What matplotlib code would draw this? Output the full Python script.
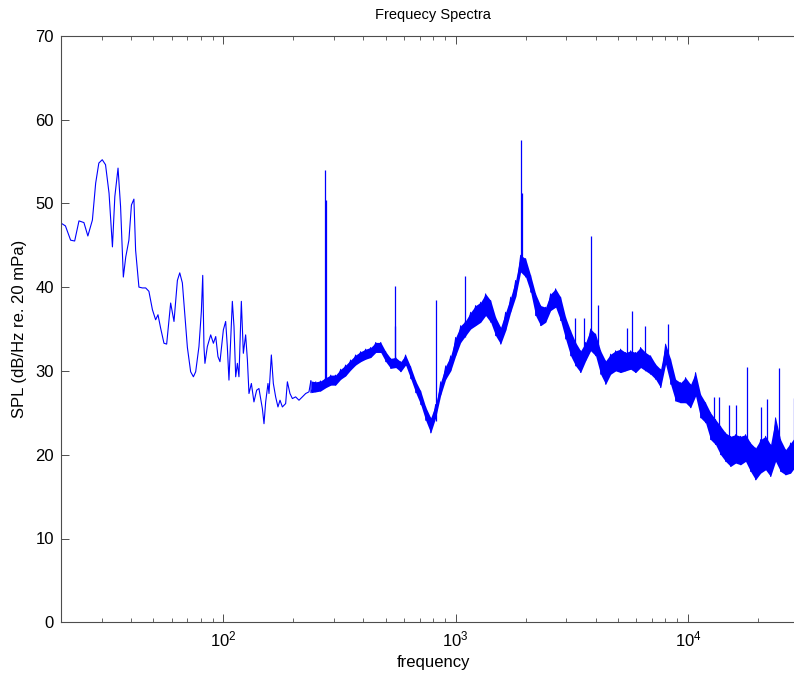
import numpy as np
import matplotlib.pyplot as plt

plt.rcParams['font.family'] = ['Liberation Sans', 'DejaVu Sans']
plt.rcParams['font.size'] = 12

# low-frequency part of the spectrum (Hz, dB) - smooth trace
f_low = [20.1, 20.9, 22.0, 22.9, 23.9, 25.1, 26.1, 27.3, 28.2, 29.1, 30.1, 31.1,
         32.2, 33.3, 34.1, 35.2, 36.1, 37.1, 38.0, 39.2, 40.2, 41.2, 41.9, 43.3,
         44.8, 46.3, 47.8, 49.5, 51.1, 52.3, 53.7, 55.5, 57.0, 59.3, 61.3, 63.4,
         64.9, 66.6, 70.0, 72.3, 74.3, 76.0, 78.5, 80.4, 81.5, 82.5, 83.3, 85.3,
         88.2, 90.6, 92.7, 94.8, 96.7, 100.0, 102.3, 104.0, 105.7, 109.3, 111.1,
         113.0, 114.9, 116.7, 119.5, 121.9, 124.7, 126.9, 128.9, 132.0, 135.4,
         139.1, 142.3, 144.7, 147.2, 149.6, 152.1, 155.6, 157.2, 160.9, 164.1,
         167.9, 171.8, 175.3, 179.5, 185.4, 188.6, 193.5, 198.2, 204.7, 211.6,
         218.8, 226.1, 233.6]
spl_low = [47.6, 47.3, 45.6, 45.5, 47.9, 47.7, 46.1, 48.0, 52.4, 54.8, 55.2, 54.6,
           51.2, 44.8, 50.8, 54.2, 49.6, 41.2, 43.6, 45.6, 49.8, 50.5, 44.4, 40.0,
           39.9, 39.9, 39.5, 37.3, 36.1, 36.7, 35.1, 33.3, 33.2, 38.1, 35.9, 40.8,
           41.7, 40.5, 32.8, 29.9, 29.3, 29.9, 32.9, 37.1, 41.4, 32.9, 30.9, 32.9,
           34.3, 33.3, 34.1, 31.7, 31.1, 34.9, 35.9, 32.9, 28.9, 38.3, 35.3,
           29.3, 30.9, 29.3, 38.3, 32.1, 34.3, 31.3, 27.3, 28.5, 26.3,
           27.7, 27.9, 26.7, 25.5, 23.7, 26.3, 28.5, 27.3, 31.9, 28.5,
           26.9, 25.7, 26.5, 25.7, 26.1, 28.7, 27.3, 26.7, 26.9, 26.5,
           26.9, 27.3, 27.5]

# noisy part: upper and lower edge of the trace
f_band = [238, 250, 262, 276, 290, 304, 320, 336, 353, 371, 390, 410, 431, 453,
          476, 500, 525, 552, 580, 609, 640, 673, 707, 743, 781, 820, 862, 906,
          952, 1000, 1051, 1104, 1160, 1219, 1281, 1346, 1415, 1486, 1562, 1641,
          1725, 1812, 1904, 2001, 2103, 2209, 2322, 2440, 2563, 2694, 2831, 2974,
          3126, 3284, 3451, 3627, 3811, 4004, 4208, 4422, 4646, 4882, 5130, 5391,
          5665, 5952, 6255, 6572, 6906, 7257, 7626, 8013, 8420, 8848, 9297, 9770,
          10266, 10787, 11335, 11911, 12516, 13152, 13820, 14522, 15260, 16035,
          16849, 17705, 18605, 19550, 20542, 21586, 22682, 23834, 25045, 26317,
          27654, 29058]
band_hi = [28.8, 28.7, 28.8, 29.2, 29.5, 29.5, 30.2, 30.7, 31.3, 31.9, 32.3, 32.6,
           32.8, 33.4, 33.4, 32.3, 31.5, 31.6, 31.1, 31.9, 30.5, 28.8, 27.6, 25.7,
           24.4, 26.0, 28.7, 30.6, 31.8, 34.0, 35.4, 36.0, 37.0, 37.8, 38.2, 39.2,
           38.4, 36.4, 35.2, 37.0, 38.8, 40.8, 43.8, 43.4, 41.4, 39.2, 37.8, 37.6,
           39.2, 39.8, 38.8, 36.4, 34.8, 33.4, 32.4, 33.4, 35.0, 34.4, 32.4, 31.2,
           32.0, 32.4, 32.6, 32.2, 32.4, 32.2, 32.8, 32.2, 31.8, 30.8, 30.2, 33.2,
           31.4, 29.0, 28.6, 29.2, 28.4, 29.8, 27.2, 26.2, 25.0, 24.2, 23.4, 22.6,
           22.2, 22.4, 22.2, 22.4, 21.4, 20.8, 21.8, 22.2, 21.2, 24.4, 21.8, 20.6,
           21.4, 22.2]
band_lo = [27.4, 27.5, 27.6, 28.0, 28.3, 28.3, 29.0, 29.4, 30.1, 30.7, 31.1, 31.4,
           31.6, 32.2, 32.2, 31.1, 30.3, 30.4, 29.9, 30.7, 29.1, 27.4, 26.0, 24.1,
           22.6, 24.4, 27.1, 29.0, 30.0, 31.8, 33.4, 34.2, 35.0, 35.4, 35.8, 36.6,
           35.8, 34.2, 33.2, 34.8, 37.0, 38.8, 41.8, 41.2, 39.4, 36.6, 35.4, 35.8,
           37.2, 37.6, 36.0, 33.8, 31.8, 30.6, 29.8, 31.2, 32.4, 31.8, 29.6, 28.4,
           29.6, 30.0, 29.8, 30.0, 30.2, 29.8, 30.4, 30.0, 29.6, 29.0, 28.0, 30.8,
           28.4, 26.4, 26.2, 26.2, 25.6, 27.0, 24.4, 23.8, 21.8, 21.2, 20.0, 19.2,
           18.6, 19.0, 18.8, 19.2, 18.0, 17.0, 17.8, 18.2, 17.4, 19.2, 18.0, 17.6,
           17.8, 18.6]

# tonal peaks: frequency, level at the foot, level at the top
f_tone = [274, 276, 548, 550, 822, 1097, 1919, 1923, 3260, 3567, 3837, 4111,
          5485, 5768, 6516, 8206, 12950, 13590, 14990, 16030, 18030, 20570,
          21820, 24660, 28590]
tone_base = [29.0, 29.0, 31.0, 31.0, 24.0, 34.0, 43.0, 43.0, 33.0, 32.0, 34.0, 33.0,
             31.0, 31.0, 31.0, 32.0, 23.0, 22.0, 21.0, 21.0, 21.0, 21.0,
             21.0, 22.0, 21.0]
tone_peak = [54.0, 50.4, 40.1, 35.3, 38.5, 41.3, 57.6, 51.2, 36.3, 36.3, 46.1, 37.9,
             35.1, 37.2, 35.3, 35.6, 26.9, 26.9, 25.9, 25.9, 30.5, 25.7,
             26.6, 30.3, 26.8]

fig = plt.figure(figsize=(7.94, 6.74), dpi=100)
ax = fig.add_axes([61 / 794, 51.7 / 674, 744.3 / 794, 586.6 / 674])

ax.plot(f_low + [f_band[0]], spl_low + [band_hi[0]], color='b', lw=0.8)
ax.fill_between(f_band, band_lo, band_hi, color='b', lw=0)
zig_x = np.repeat(f_band, 2)
zig_y = np.column_stack([band_hi, band_lo]).ravel()
ax.plot(zig_x, zig_y, color='b', lw=0.7)
ax.vlines(f_tone, tone_base, tone_peak, color='b', lw=0.9)

ax.set_xscale('log')
ax.set_xlim(20, 32000)
ax.set_ylim(0, 70)
ax.set_yticks(range(0, 71, 10))

for s in ax.spines.values():
    s.set_color('0.3')
    s.set_linewidth(0.8)
ax.tick_params(which='both', direction='in', top=True, right=True, color='0.3')
ax.tick_params(which='major', length=6, width=0.7, pad=5)
ax.tick_params(which='minor', length=3, width=0.6)

ax.set_title('Frequecy Spectra', fontsize=10.5, pad=12)
ax.set_xlabel('frequency', labelpad=4)
ax.set_ylabel('SPL (dB/Hz re. 20 mPa)', labelpad=6)

fig.savefig('out.png', dpi=100)
